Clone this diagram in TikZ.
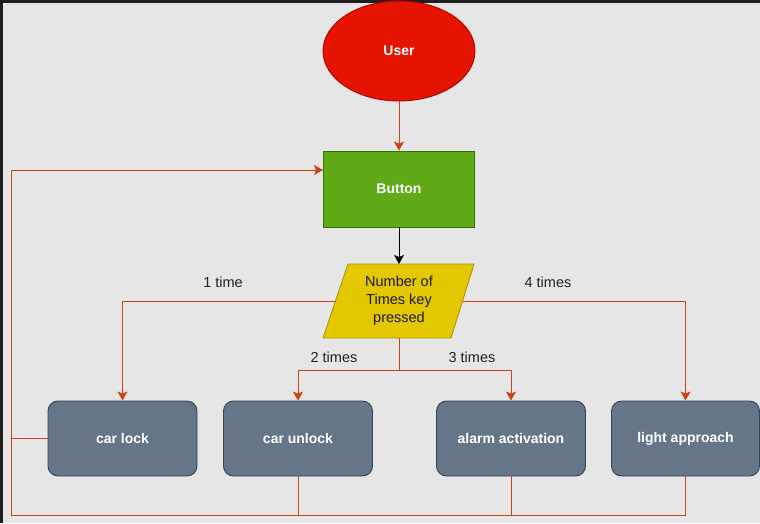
\documentclass[tikz,border=0pt]{standalone}
\usepackage{fontspec}
\setmainfont{Liberation Sans}
\usetikzlibrary{arrows.meta,shapes.geometric,calc}
\definecolor{bgc}{HTML}{E6E6E6}
\definecolor{userfill}{HTML}{E51400}
\definecolor{userline}{HTML}{B20000}
\definecolor{btnfill}{HTML}{60A917}
\definecolor{btnline}{HTML}{2D7600}
\definecolor{parafill}{HTML}{E3C800}
\definecolor{paraline}{HTML}{B09500}
\definecolor{boxfill}{HTML}{647687}
\definecolor{boxline}{HTML}{314354}
\definecolor{conncol}{RGB}{204,68,20}
\definecolor{txtc}{HTML}{222222}
\tikzset{
  whitetxt/.style={text=white, font=\fontsize{14}{16}\selectfont\bfseries},
  actbox/.style={draw=boxline, fill=boxfill, rounded corners=10pt, minimum width=149pt, minimum height=75pt, inner sep=0pt, line width=0.9pt, whitetxt},
  conn/.style={draw=conncol, line width=1pt},
  tipstyle/.style={-{Stealth[length=9pt,width=10pt,inset=2pt]}},
  connarr/.style={conn, tipstyle},
  lbl/.style={text=txtc, font=\fontsize{14.5}{17}\selectfont, inner sep=0pt}
}
\begin{document}
\begin{tikzpicture}[x=1pt,y=-1pt]
\fill[bgc] (0,0) rectangle (760,523);
\useasboundingbox (0,0) rectangle (760,523);
\fill[black!88] (0,0) rectangle (2.5,523);
\fill[black!88] (0,0) rectangle (760,2.5);

% nodes
\node[ellipse, draw=userline, fill=userfill, minimum width=152pt, minimum height=100pt, inner sep=0pt, line width=0.9pt, whitetxt] (user) at (399,51) {User};
\node[rectangle, draw=btnline, fill=btnfill, minimum width=151pt, minimum height=76pt, inner sep=0pt, line width=0.9pt, whitetxt] (button) at (399,189) {Button};

\filldraw[fill=parafill, draw=paraline, line width=0.9pt] (348,264) -- (474,264) -- (451,338) -- (323,338) -- cycle;
\node[lbl, align=center, text=black!90, font=\fontsize{14.5}{18}\selectfont] (num) at (399,301) {Number of\\Times key\\pressed};
\coordinate (numT) at (399,264);
\coordinate (numL) at (335.5,301);
\coordinate (numR) at (462.5,301);
\coordinate (numB) at (399,338);
\coordinate (split) at (399,370);

\node[actbox] (carlock) at (122.5,438.5) {car lock};
\node[actbox] (carunlock) at (298,438.5) {car unlock};
\node[actbox] (alarm) at (511,438.5) {alarm activation};
\node[actbox, minimum width=148pt] (light) at (685.5,438.5) {light approach};

% labels
\node[lbl] (l1) at (223,282) {1 time};
\node[lbl] (l4) at (548,282) {4 times};
\node[lbl] (l2) at (334,357) {2 times};
\node[lbl] (l3) at (472,357) {3 times};

% connectors
\draw[connarr] (user.south) -- (button.north);
\draw[line width=1pt, tipstyle] (button.south) -- (numT);
\draw[connarr] (numL) -| (carlock.north);
\draw[connarr] (numR) -| (light.north);
\draw[conn] (numB) -- (split);
\draw[connarr] (split) -| (carunlock.north);
\draw[connarr] (split) -| (alarm.north);

\coordinate (lc) at (11,438.5);
\coordinate (bl) at (11,515);
\draw[connarr] (carlock.west) -- (lc) |- ($(button.west)+(0,-19)$);
\draw[conn] (carunlock.south) |- (bl) -- (lc);
\draw[conn] (alarm.south) -- (alarm.south |- bl);
\draw[conn] (light.south) |- (bl);
\end{tikzpicture}
\end{document}
